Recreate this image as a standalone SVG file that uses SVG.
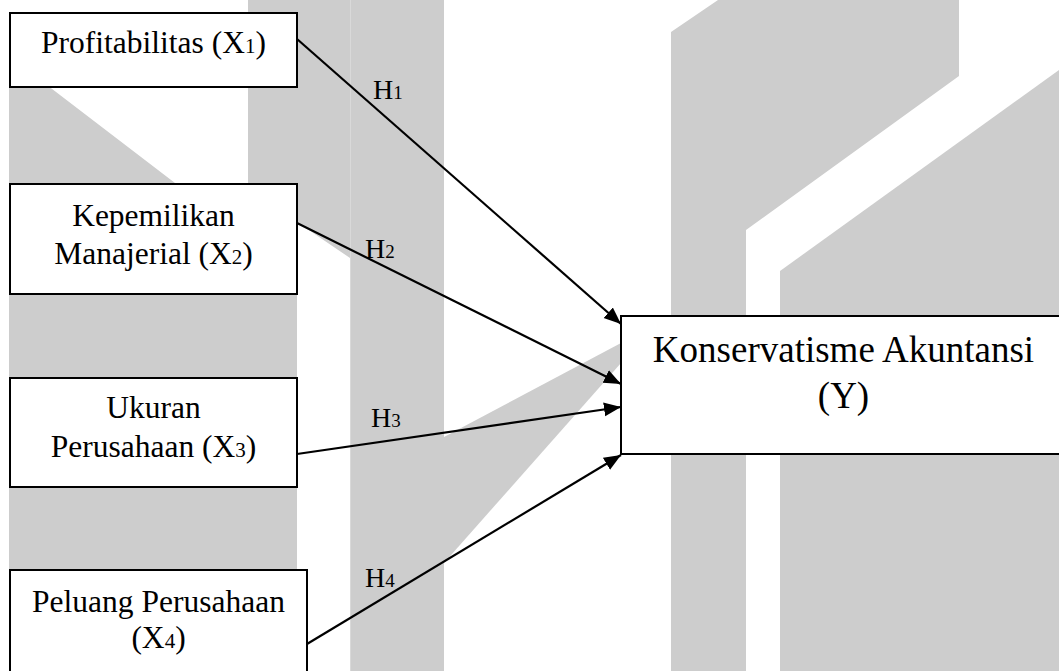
<svg xmlns="http://www.w3.org/2000/svg" width="1059" height="671" viewBox="0 0 1059 671">
<style>
.wm{fill:#cdcdcd;stroke:none}
.box{fill:#fff;stroke:#000;stroke-width:2}
.t{font-family:"Liberation Serif","Times New Roman",serif;font-size:31.5px;fill:#000;text-anchor:middle}
.ty{font-family:"Liberation Serif","Times New Roman",serif;font-size:37px;fill:#000;text-anchor:middle}
.h{font-family:"Liberation Serif","Times New Roman",serif;font-size:28px;fill:#000}
.sub{font-size:21px}
.hs{font-size:19px}
.c{fill:none;stroke:#000;stroke-width:2.2;marker-end:url(#arr)}
</style>
<defs>
<marker id="arr" markerUnits="userSpaceOnUse" markerWidth="18" markerHeight="15" refX="17" refY="7" orient="auto">
<path d="M0,0 L17,7 L0,14 z" fill="#000"/>
</marker>
</defs>
<rect width="1059" height="671" fill="#fff"/>
<g id="watermark">
<polygon class="wm" points="9,56 175,183 248,184 248,0 350,0 350,258 297,222 297,671 9,671"/>
<polygon class="wm" points="350,0 444,0 444,671 350,671"/>
<line x1="350.5" y1="0" x2="350.5" y2="671" stroke="#d9d9d9" stroke-width="1"/>
<polygon class="wm" points="444,437 621,343 621,363 444,563"/>
<polygon class="wm" points="671,32 718,0 959,0 959,76 746,230 746,671 671,671"/>
<polygon class="wm" points="780,271 1059,70 1059,671 780,671"/>
</g>
<g id="connectors">
<line class="c" x1="297" y1="39" x2="621" y2="324"/>
<line class="c" x1="297" y1="223" x2="621" y2="384"/>
<line class="c" x1="297" y1="454" x2="621" y2="407"/>
<line class="c" x1="307" y1="644" x2="621" y2="455"/>
<text class="h" x="373" y="99">H<tspan class="hs">1</tspan></text>
<text class="h" x="365" y="258">H<tspan class="hs">2</tspan></text>
<text class="h" x="371" y="427">H<tspan class="hs">3</tspan></text>
<text class="h" x="365" y="587">H<tspan class="hs">4</tspan></text>
</g>
<g id="x1">
<rect class="box" x="10" y="13" width="287" height="74"/>
<text class="t" x="153.5" y="53">Profitabilitas (X<tspan class="sub">1</tspan>)</text>
</g>
<g id="x2">
<rect class="box" x="10" y="184" width="287" height="110"/>
<text class="t" x="153.5" y="226">Kepemilikan</text>
<text class="t" x="153.5" y="264">Manajerial (X<tspan class="sub">2</tspan>)</text>
</g>
<g id="x3">
<rect class="box" x="10" y="378" width="287" height="109"/>
<text class="t" x="153.5" y="418">Ukuran</text>
<text class="t" x="153.5" y="457">Perusahaan (X<tspan class="sub">3</tspan>)</text>
</g>
<g id="x4">
<rect class="box" x="10" y="570" width="297" height="110"/>
<text class="t" x="158.5" y="612">Peluang Perusahaan</text>
<text class="t" x="158.5" y="648">(X<tspan class="sub">4</tspan>)</text>
</g>
<g id="y">
<rect class="box" x="621" y="316" width="445" height="138"/>
<text class="ty" x="843.5" y="362">Konservatisme Akuntansi</text>
<text class="ty" x="843.5" y="408">(Y)</text>
</g>
</svg>
